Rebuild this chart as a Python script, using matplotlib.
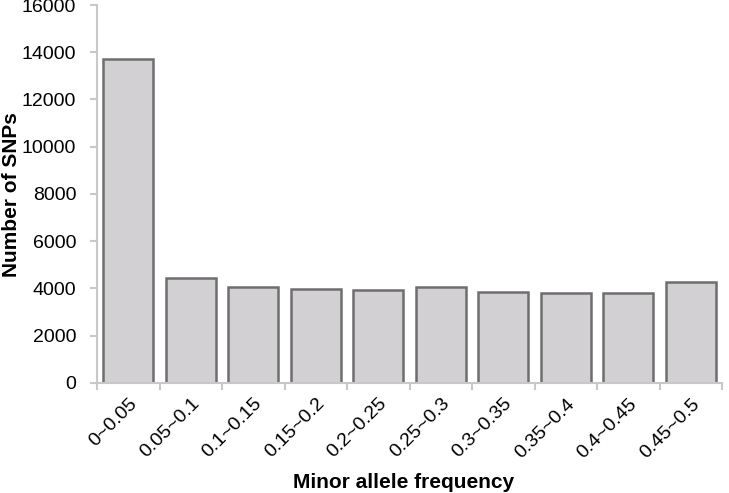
import matplotlib

matplotlib.use("Agg")
import matplotlib.pyplot as plt
import numpy as np

plt.rcParams["font.family"] = ["Liberation Sans", "DejaVu Sans"]

CATEGORIES = ["0~0.05", "0.05~0.1", "0.1~0.15", "0.15~0.2", "0.2~0.25",
              "0.25~0.3", "0.3~0.35", "0.35~0.4", "0.4~0.45", "0.45~0.5"]
SNP_COUNTS = [13700, 4450, 4070, 3970, 3915, 4055, 3855, 3800, 3800, 4255]
Y_TICKS = [0, 2000, 4000, 6000, 8000, 10000, 12000, 14000, 16000]

fig = plt.figure(figsize=(7.29, 4.93), dpi=100)
ax = fig.add_axes([97 / 729, 1 - 382.7 / 493, 625 / 729, 377.6 / 493])

x = np.arange(len(CATEGORIES))
ax.bar(x, SNP_COUNTS, width=0.8, color="#d2d0d2", edgecolor="#6e6e6e", linewidth=1.8)

ax.set_xlim(-0.5, len(CATEGORIES) - 0.5)
ax.set_ylim(0, 16000)
ax.set_yticks(Y_TICKS)
ax.set_yticklabels([str(v) for v in Y_TICKS], fontsize=14)

# ticks sit on category boundaries, labels at the centres
ax.set_xticks(np.arange(len(CATEGORIES) + 1) - 0.5)
ax.set_xticklabels([])
ax.set_xticks(x, minor=True)
ax.set_xticklabels(CATEGORIES, minor=True, rotation=45, ha="right",
                   rotation_mode="anchor", fontsize=14)
ax.tick_params(axis="x", which="minor", length=0, pad=9)
ax.tick_params(axis="x", which="major", length=5, width=1.5, color="#c8c8c8")
ax.tick_params(axis="y", length=5, width=1.5, color="#c8c8c8", pad=10)

for side in ("top", "right"):
    ax.spines[side].set_visible(False)
ax.spines["left"].set_color("#c8c8c8")
ax.spines["left"].set_linewidth(1.5)
ax.spines["bottom"].set_color("#c8c8c8")
ax.spines["bottom"].set_linewidth(1.5)

ax.set_ylabel("Number of SNPs", fontsize=15, fontweight="bold", va="center")
ax.yaxis.set_label_coords(-0.136, 0.497)
ax.set_xlabel("Minor allele frequency", fontsize=15, fontweight="bold", va="center")
ax.xaxis.set_label_coords(0.49, -0.263)

fig.savefig("out.png", dpi=100)
